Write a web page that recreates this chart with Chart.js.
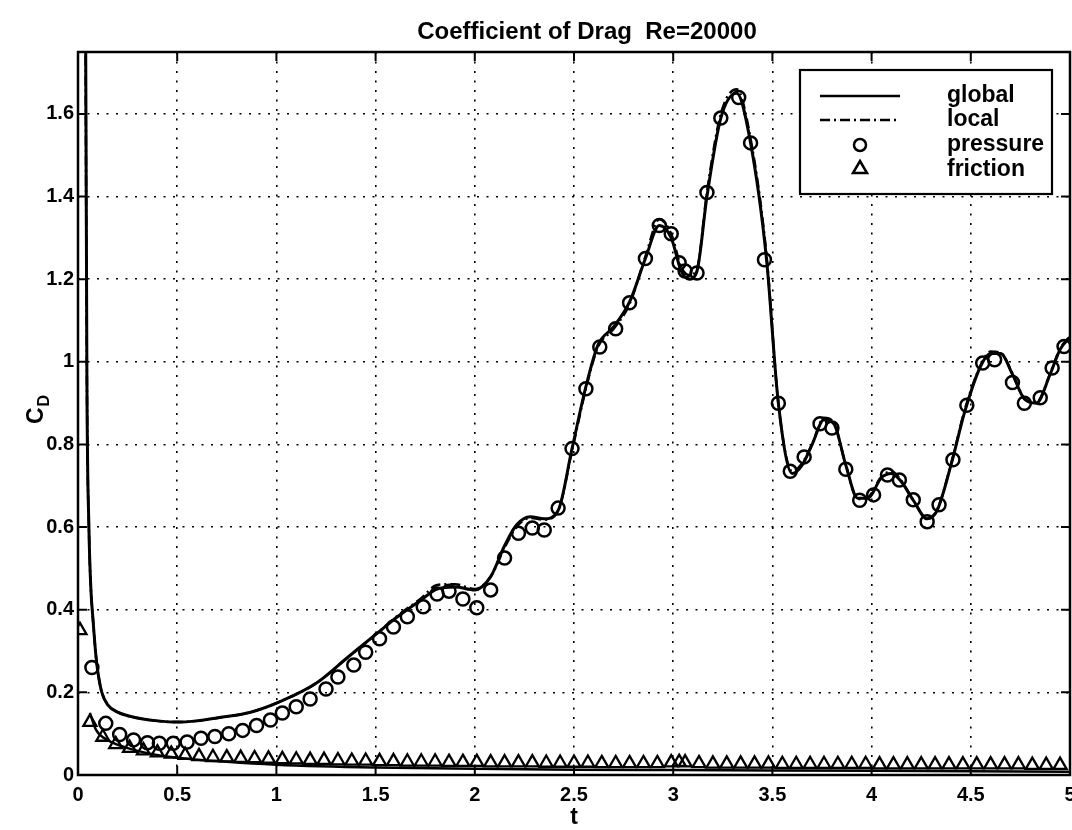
<!DOCTYPE html>
<html>
<head>
<meta charset="utf-8">
<title>Coefficient of Drag Re=20000</title>
<script src="https://cdn.jsdelivr.net/npm/chart.js@4.4.0/dist/chart.umd.min.js"></script>
<style>
  html, body { margin: 0; padding: 0; background: #fff; }
  canvas { display: block; }
</style>
</head>
<body>
<canvas id="dragChart" width="1072" height="830"></canvas>
<script>
// global (solid line)
const globalT = [0.03, 0.045, 0.055, 0.065, 0.075, 0.09, 0.1, 0.12, 0.15, 0.2,
  0.3, 0.4, 0.5, 0.6, 0.7, 0.87, 1.03, 1.2, 1.36, 1.51,
  1.61, 1.73, 1.81, 1.9, 2.0, 2.08, 2.15, 2.21, 2.28, 2.35,
  2.42, 2.49, 2.56, 2.62, 2.7, 2.78, 2.86, 2.93, 2.99, 3.04,
  3.08, 3.12, 3.17, 3.24, 3.32, 3.39, 3.47, 3.53, 3.6, 3.65,
  3.7, 3.76, 3.81, 3.87, 3.93, 3.98, 4.05, 4.1, 4.15, 4.21,
  4.28, 4.33, 4.4, 4.47, 4.55, 4.6, 4.65, 4.71, 4.77, 4.83,
  4.9, 4.95, 5.0];
const globalCd = [3.0, 0.95, 0.6, 0.45, 0.38, 0.29, 0.25, 0.2, 0.17, 0.152,
  0.138, 0.131, 0.128, 0.131, 0.138, 0.152, 0.18, 0.222, 0.285, 0.344,
  0.383, 0.424, 0.45, 0.455, 0.448, 0.48, 0.555, 0.605, 0.625, 0.62,
  0.64, 0.79, 0.94, 1.04, 1.085, 1.145, 1.25, 1.33, 1.3, 1.22,
  1.2, 1.22, 1.4, 1.59, 1.65, 1.53, 1.25, 0.9, 0.73, 0.75,
  0.8, 0.86, 0.85, 0.75, 0.67, 0.67, 0.72, 0.73, 0.71, 0.665,
  0.62, 0.64, 0.75, 0.88, 0.99, 1.02, 1.02, 0.97, 0.91, 0.9,
  0.97, 1.03, 1.06];

// local (dash-dot line), same sample times as global
const localCd = [3.0, 0.95, 0.6, 0.45, 0.38, 0.29, 0.25, 0.2, 0.17, 0.152,
  0.138, 0.131, 0.128, 0.131, 0.138, 0.152, 0.18, 0.222, 0.285, 0.344,
  0.385, 0.428, 0.46, 0.462, 0.45, 0.48, 0.55, 0.6, 0.622, 0.618,
  0.64, 0.785, 0.935, 1.035, 1.08, 1.14, 1.255, 1.345, 1.31, 1.23,
  1.21, 1.225, 1.41, 1.6, 1.66, 1.54, 1.26, 0.9, 0.735, 0.755,
  0.8, 0.865, 0.852, 0.75, 0.668, 0.672, 0.722, 0.735, 0.712, 0.665,
  0.622, 0.642, 0.752, 0.885, 0.992, 1.025, 1.022, 0.972, 0.912, 0.902,
  0.972, 1.032, 1.062];

// pressure (circles)
const pressureT = [0.07, 0.14, 0.21, 0.28, 0.35, 0.41, 0.48, 0.55, 0.62, 0.69,
  0.76, 0.83, 0.90, 0.97, 1.03, 1.10, 1.17, 1.25, 1.31, 1.39,
  1.45, 1.52, 1.59, 1.66, 1.74, 1.81, 1.87, 1.94, 2.01, 2.08,
  2.15, 2.22, 2.29, 2.35, 2.42, 2.49, 2.56, 2.63, 2.71, 2.78,
  2.86, 2.93, 2.99, 3.03, 3.06, 3.12, 3.17, 3.24, 3.33, 3.39,
  3.46, 3.53, 3.59, 3.66, 3.74, 3.80, 3.87, 3.94, 4.01, 4.08,
  4.14, 4.21, 4.28, 4.34, 4.41, 4.48, 4.56, 4.62, 4.71, 4.77,
  4.85, 4.91, 4.97];
const pressureCd = [0.26, 0.125, 0.098, 0.085, 0.078, 0.077, 0.077, 0.08, 0.089, 0.093,
  0.1, 0.108, 0.12, 0.133, 0.15, 0.165, 0.184, 0.208, 0.237, 0.266,
  0.297, 0.33, 0.358, 0.383, 0.407, 0.438, 0.445, 0.426, 0.405, 0.448,
  0.525, 0.585, 0.598, 0.593, 0.646, 0.79, 0.935, 1.036, 1.08, 1.143,
  1.25, 1.33, 1.31, 1.24, 1.22, 1.215, 1.41, 1.59, 1.64, 1.53,
  1.247, 0.9, 0.735, 0.77, 0.85, 0.84, 0.74, 0.665, 0.678, 0.726,
  0.714, 0.666, 0.613, 0.654, 0.763, 0.895, 0.997, 1.005, 0.95, 0.9,
  0.913, 0.985, 1.037];

// friction (triangles)
const frictionT = [0.01, 0.06, 0.125, 0.19, 0.26, 0.33, 0.40, 0.47, 0.54, 0.61,
  0.68, 0.75, 0.82, 0.89, 0.96, 1.03, 1.10, 1.17, 1.24, 1.31,
  1.38, 1.45, 1.52, 1.59, 1.66, 1.73, 1.80, 1.87, 1.94, 2.01,
  2.08, 2.15, 2.22, 2.29, 2.36, 2.43, 2.50, 2.57, 2.64, 2.71,
  2.78, 2.85, 2.92, 2.99, 3.03, 3.06, 3.13, 3.20, 3.27, 3.34,
  3.41, 3.48, 3.55, 3.62, 3.69, 3.76, 3.83, 3.90, 3.97, 4.04,
  4.11, 4.18, 4.25, 4.32, 4.39, 4.46, 4.53, 4.60, 4.67, 4.74,
  4.81, 4.88, 4.95];
const frictionCd = [0.35, 0.128, 0.092, 0.074, 0.065, 0.059, 0.054, 0.051, 0.048, 0.045,
  0.043, 0.042, 0.041, 0.040, 0.039, 0.038, 0.037, 0.036, 0.036, 0.035,
  0.034, 0.034, 0.033, 0.033, 0.032, 0.032, 0.032, 0.031, 0.031, 0.031,
  0.030, 0.030, 0.030, 0.030, 0.029, 0.029, 0.029, 0.029, 0.028, 0.028,
  0.028, 0.028, 0.028, 0.030, 0.031, 0.030, 0.028, 0.027, 0.027, 0.027,
  0.027, 0.027, 0.026, 0.026, 0.026, 0.026, 0.026, 0.026, 0.026, 0.025,
  0.025, 0.025, 0.025, 0.025, 0.025, 0.025, 0.025, 0.025, 0.025, 0.025,
  0.024, 0.024, 0.024];

// thin solid curve running under the triangles
const skinLineT = [0.06, 0.09, 0.13, 0.18, 0.25, 0.35, 0.5, 0.75, 1.0, 1.5, 2.0, 2.5, 3.0, 3.5, 4.0, 4.5, 5.0];
const skinLineCd = [0.15, 0.11, 0.09, 0.077, 0.065, 0.053, 0.042, 0.032, 0.025, 0.018, 0.015, 0.013, 0.012, 0.011, 0.01, 0.009, 0.008];

const xTicks = [0, 0.5, 1, 1.5, 2, 2.5, 3, 3.5, 4, 4.5, 5];
const xTickLabels = ['0', '0.5', '1', '1.5', '2', '2.5', '3', '3.5', '4', '4.5', '5'];
const yTicks = [0, 0.2, 0.4, 0.6, 0.8, 1, 1.2, 1.4, 1.6];
const yTickLabels = ['0', '0.2', '0.4', '0.6', '0.8', '1', '1.2', '1.4', '1.6'];

const FONT = '"Liberation Sans", Arial, Helvetica, sans-serif';
const pts = (xs, ys) => xs.map((t, i) => ({ x: t, y: ys[i] }));

// frame, inward ticks, legend and labels drawn MATLAB style
const matlabFrame = {
    id: 'matlabFrame',
    afterDatasetsDraw(chart) {
        const { ctx, chartArea: a, scales: { x, y } } = chart;
        ctx.save();
        ctx.strokeStyle = '#000';
        ctx.lineWidth = 2;
        ctx.beginPath();
        x.ticks.forEach(t => {
            const px = x.getPixelForValue(t.value);
            ctx.moveTo(px, a.bottom); ctx.lineTo(px, a.bottom - 9);
            ctx.moveTo(px, a.top); ctx.lineTo(px, a.top + 9);
        });
        y.ticks.forEach(t => {
            const py = y.getPixelForValue(t.value);
            ctx.moveTo(a.left, py); ctx.lineTo(a.left + 9, py);
            ctx.moveTo(a.right, py); ctx.lineTo(a.right - 9, py);
        });
        ctx.stroke();
        ctx.lineWidth = 2.5;
        ctx.strokeRect(a.left, a.top, a.right - a.left, a.bottom - a.top);

        // legend
        const bx = 800, by = 70, bw = 252, bh = 124;
        ctx.fillStyle = '#fff';
        ctx.fillRect(bx, by, bw, bh);
        ctx.lineWidth = 2.2;
        ctx.strokeRect(bx, by, bw, bh);
        ctx.fillStyle = '#000';
        ctx.lineWidth = 2.5;
        ctx.beginPath();
        ctx.moveTo(820, 96); ctx.lineTo(900, 96);
        ctx.stroke();
        ctx.setLineDash([10, 4, 2, 4]);
        ctx.beginPath();
        ctx.moveTo(820, 120); ctx.lineTo(900, 120);
        ctx.stroke();
        ctx.setLineDash([]);
        ctx.lineWidth = 2.5;
        ctx.beginPath();
        ctx.arc(860, 145, 6, 0, Math.PI * 2);
        ctx.stroke();
        ctx.beginPath();
        ctx.moveTo(860, 161); ctx.lineTo(867, 173); ctx.lineTo(853, 173); ctx.closePath();
        ctx.stroke();
        ctx.font = 'bold 23px ' + FONT;
        ctx.textAlign = 'left';
        ctx.textBaseline = 'alphabetic';
        const names = ['global', 'local', 'pressure', 'friction'];
        const bases = [102, 126, 151, 176];
        names.forEach((n, i) => ctx.fillText(n, 947, bases[i]));
        ctx.restore();
    },
    afterDraw(chart) {
        const { ctx, chartArea: a } = chart;
        ctx.save();
        ctx.fillStyle = '#000';
        ctx.textAlign = 'center';
        ctx.textBaseline = 'alphabetic';
        ctx.font = 'bold 24px ' + FONT;
        ctx.fillText('Coefficient of Drag  Re=20000', 587, 39);
        ctx.font = 'bold 23px ' + FONT;
        ctx.fillText('t', (a.left + a.right) / 2, 824);
        // C_D rotated
        ctx.translate(43, 424);
        ctx.rotate(-Math.PI / 2);
        ctx.textAlign = 'left';
        ctx.font = 'bold 23px ' + FONT;
        ctx.fillText('C', 0, 0);
        const cw = ctx.measureText('C').width;
        ctx.font = 'bold 16px ' + FONT;
        ctx.fillText('D', cw + 1, 6);
        ctx.restore();
    }
};

const ctx = document.getElementById('dragChart').getContext('2d');
const dragChart = new Chart(ctx, {
    type: 'scatter',
    data: {
        datasets: [
            {
                label: 'global',
                data: pts(globalT, globalCd),
                showLine: true,
                borderColor: '#000',
                borderWidth: 3,
                pointRadius: 0,
                cubicInterpolationMode: 'monotone'
            },
            {
                label: 'local',
                data: pts(globalT, localCd),
                showLine: true,
                borderColor: '#000',
                borderWidth: 2.5,
                borderDash: [10, 4, 2, 4],
                pointRadius: 0,
                cubicInterpolationMode: 'monotone'
            },
            {
                label: 'pressure',
                data: pts(pressureT, pressureCd),
                pointStyle: 'circle',
                pointRadius: 6.5,
                pointBorderWidth: 2.5,
                borderColor: '#000',
                backgroundColor: 'rgba(0,0,0,0)'
            },
            {
                label: 'friction',
                data: pts(frictionT, frictionCd),
                pointStyle: 'triangle',
                pointRadius: 7.5,
                pointBorderWidth: 2.3,
                borderColor: '#000',
                backgroundColor: 'rgba(0,0,0,0)'
            },
            {
                label: 'skin',
                data: pts(skinLineT, skinLineCd),
                showLine: true,
                borderColor: '#000',
                borderWidth: 2.5,
                pointRadius: 0,
                cubicInterpolationMode: 'monotone'
            }
        ]
    },
    options: {
        responsive: false,
        animation: false,
        events: [],
        layout: { autoPadding: false, padding: { top: 52, right: 2, left: 0, bottom: 0 } },
        plugins: {
            legend: { display: false },
            title: { display: false },
            tooltip: { enabled: false }
        },
        scales: {
            x: {
                type: 'linear',
                min: 0,
                max: 5,
                afterFit: s => { s.height = 55; s.paddingLeft = 0; s.paddingRight = 0; },
                afterBuildTicks: s => { s.ticks = xTicks.map(v => ({ value: v })); },
                ticks: {
                    callback: (v, i) => xTickLabels[i],
                    color: '#000',
                    padding: 8,
                    maxRotation: 0,
                    font: { family: FONT, size: 20, weight: 'bold' }
                },
                grid: { color: '#000', lineWidth: 1.6, drawTicks: false },
                border: { display: false, dash: [2, 7.5] }
            },
            y: {
                type: 'linear',
                min: 0,
                max: 1.75,
                afterFit: s => { s.width = 78; s.paddingTop = 0; s.paddingBottom = 0; },
                afterBuildTicks: s => { s.ticks = yTicks.map(v => ({ value: v })); },
                ticks: {
                    callback: (v, i) => yTickLabels[i],
                    color: '#000',
                    padding: 4,
                    font: { family: FONT, size: 20, weight: 'bold' }
                },
                grid: { color: '#000', lineWidth: 1.6, drawTicks: false },
                border: { display: false, dash: [2, 7.5] }
            }
        }
    },
    plugins: [matlabFrame]
});
</script>
</body>
</html>
